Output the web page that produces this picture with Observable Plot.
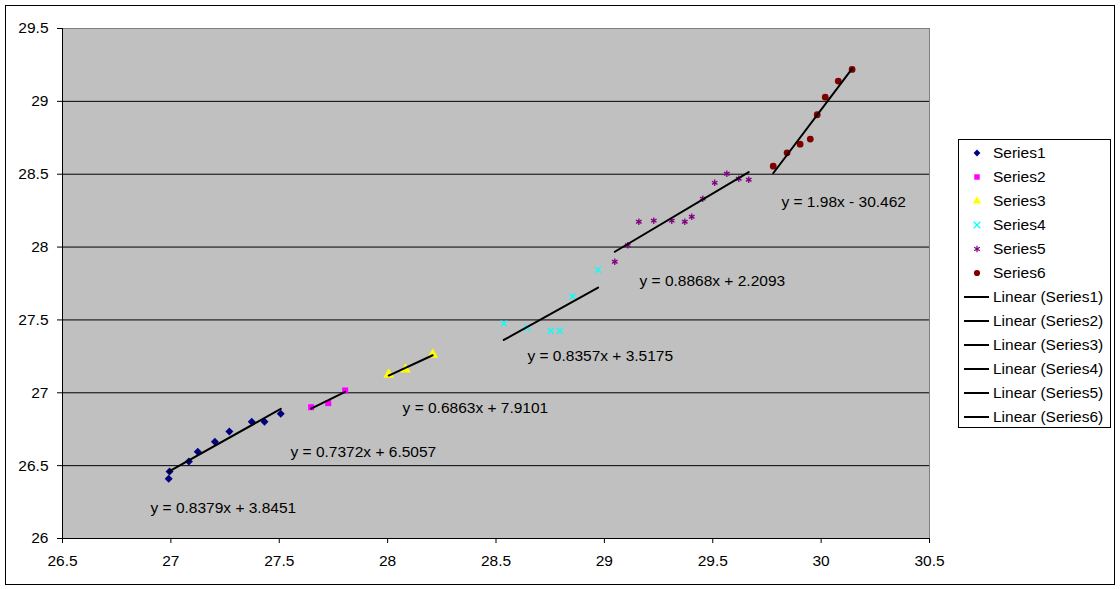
<!DOCTYPE html>
<html>
<head>
<meta charset="utf-8">
<script src="https://cdn.jsdelivr.net/npm/d3@7"></script>
<script src="https://cdn.jsdelivr.net/npm/@observablehq/plot@0.6"></script>
<style>
  html, body { margin: 0; padding: 0; background: #fff; }
  #wrap { position: relative; width: 1120px; height: 589px; font-family: "Liberation Sans", Arial, sans-serif; }
  #border { position: absolute; left: 5px; top: 5px; width: 1110px; height: 580px; box-sizing: border-box; border: 1px solid #000; pointer-events: none; }
  #chart { position: absolute; left: 0; top: 0; }
  #legend { position: absolute; left: 958px; top: 139px; }
</style>
</head>
<body>
<div id="wrap">
  <div id="chart"></div>
  <div id="legend"></div>
  <div id="border"></div>
</div>
<script>
// ---- data ----
const seriesNames = ["Series1", "Series2", "Series3", "Series4", "Series5", "Series6"];
const s1x = [26.994, 26.99, 27.083, 27.124, 27.203, 27.270, 27.373, 27.432, 27.507];
const s1y = [26.46, 26.41, 26.528, 26.595, 26.664, 26.734, 26.801, 26.801, 26.856];
const s2x = [27.647, 27.726, 27.804];
const s2y = [26.901, 26.929, 27.016];
const s3x = [28.005, 28.082, 28.208];
const s3y = [27.125, 27.16, 27.262];
const s4x = [28.536, 28.644, 28.753, 28.794, 28.853, 28.971];
const s4y = [27.476, 27.446, 27.426, 27.426, 27.661, 27.844];
const s5x = [29.048, 29.108, 29.159, 29.228, 29.311, 29.371, 29.403, 29.454, 29.509, 29.565, 29.620, 29.666];
const s5y = [27.899, 28.013, 28.174, 28.181, 28.181, 28.174, 28.208, 28.332, 28.441, 28.503, 28.469, 28.462];
const s6x = [29.779, 29.843, 29.903, 29.950, 29.982, 30.019, 30.079, 30.143];
const s6y = [28.555, 28.647, 28.706, 28.741, 28.908, 29.029, 29.139, 29.219];

const equations = ["y = 0.8379x + 3.8451", "y = 0.7372x + 6.5057", "y = 0.6863x + 7.9101",
                   "y = 0.8357x + 3.5175", "y = 0.8868x + 2.2093", "y = 1.98x - 30.462"];
const eqX = [26.906, 27.552, 28.069, 28.645, 29.162, 29.817];
const eqY = [26.206, 26.590, 26.892, 27.249, 27.764, 28.306];

const xTicks = [26.5, 27, 27.5, 28, 28.5, 29, 29.5, 30, 30.5];
const yTicks = [26, 26.5, 27, 27.5, 28, 28.5, 29, 29.5];

// ---- styles ----
const colors = ["#000080", "#FF00FF", "#FFFF00", "#00FFFF", "#800080", "#800000"];
const symbols = ["diamond2", "square", "triangle", "times", "asterisk", "circle"];
const filled = [true, true, true, false, false, true];
const radii = [3.6, 3.4, 4, 2.8, 3, 3.4];

const xs = [s1x, s2x, s3x, s4x, s5x, s6x];
const ys = [s1y, s2y, s3y, s4y, s5y, s6y];
const points = [];
xs.forEach((arr, i) => arr.forEach((x, j) => points.push({series: seriesNames[i], x, y: ys[i][j], i})));
const labels = equations.map((t, i) => ({t, x: eqX[i], y: eqY[i]}));

const dotMarks = seriesNames.map((name, i) => {
  const d = points.filter(p => p.i === i);
  const o = {x: "x", y: "y", symbol: () => symbols[i], r: radii[i]};
  if (filled[i]) { o.fill = colors[i]; o.stroke = "none"; }
  else { o.stroke = colors[i]; o.fill = "none"; o.strokeWidth = 1.3; }
  return Plot.dot(d, o);
});

const chart = Plot.plot({
  width: 1120,
  height: 589,
  marginLeft: 62,
  marginRight: 191,
  marginTop: 28,
  marginBottom: 51,
  style: {fontFamily: "'Liberation Sans', Arial, sans-serif", fontSize: "15.5px", background: "transparent", color: "#000"},
  x: {domain: [26.5, 30.5], label: null},
  y: {domain: [26, 29.5], label: null},
  symbol: {type: "identity"},
  marks: [
    Plot.frame({fill: "#c0c0c0", stroke: "#808080"}),
    Plot.gridY(yTicks.slice(1, -1), {stroke: "#000", strokeOpacity: 1, strokeWidth: 1}),
    Plot.axisX(xTicks, {tickSize: 5, tickPadding: 11, tickFormat: d => String(d), stroke: "#000", fontSize: 15.5}),
    Plot.axisY(yTicks, {tickSize: 5, tickPadding: 9, tickFormat: d => String(d), stroke: "#000", fontSize: 15.5}),
    Plot.ruleX([26.5], {stroke: "#000"}),
    Plot.ruleY([26], {stroke: "#000"}),
    ...dotMarks,
    Plot.linearRegressionY(points, {x: "x", y: "y", z: "series", stroke: "#000", strokeWidth: 2, ci: 0}),
    Plot.text(labels, {x: "x", y: "y", text: "t", textAnchor: "start", fontSize: 15.5, fill: "#000"})
  ]
});
document.getElementById("chart").appendChild(chart);

// ---- legend ----
const legendItems = seriesNames.map((n, i) => ({label: n, kind: "marker", i}))
  .concat(seriesNames.map((n, i) => ({label: "Linear (" + n + ")", kind: "line", i})));
const lw = 153, lh = 289;
const lsvg = d3.create("svg").attr("width", lw).attr("height", lh)
  .style("font-family", "'Liberation Sans', Arial, sans-serif").style("font-size", "15.5px");
lsvg.append("rect").attr("x", 0.5).attr("y", 0.5).attr("width", lw - 1).attr("height", lh - 1)
  .attr("fill", "#fff").attr("stroke", "#000");
const d3sym = {diamond2: d3.symbolDiamond2, square: d3.symbolSquare, triangle: d3.symbolTriangle,
               times: d3.symbolTimes, asterisk: d3.symbolAsterisk, circle: d3.symbolCircle};
legendItems.forEach((it, k) => {
  const cy = 14 + k * 24;
  const g = lsvg.append("g");
  if (it.kind === "marker") {
    const p = g.append("path")
      .attr("transform", `translate(19,${cy})`)
      .attr("d", d3.symbol(d3sym[symbols[it.i]], 30)());
    if (filled[it.i]) p.attr("fill", colors[it.i]);
    else p.attr("fill", "none").attr("stroke", colors[it.i]).attr("stroke-width", 1.2);
  } else {
    g.append("line").attr("x1", 6).attr("x2", 31).attr("y1", cy).attr("y2", cy)
      .attr("stroke", "#000").attr("stroke-width", 2);
  }
  g.append("text").attr("x", 35).attr("y", cy).attr("dy", "0.35em").attr("fill", "#000").text(it.label);
});
document.getElementById("legend").appendChild(lsvg.node());
</script>
</body>
</html>
